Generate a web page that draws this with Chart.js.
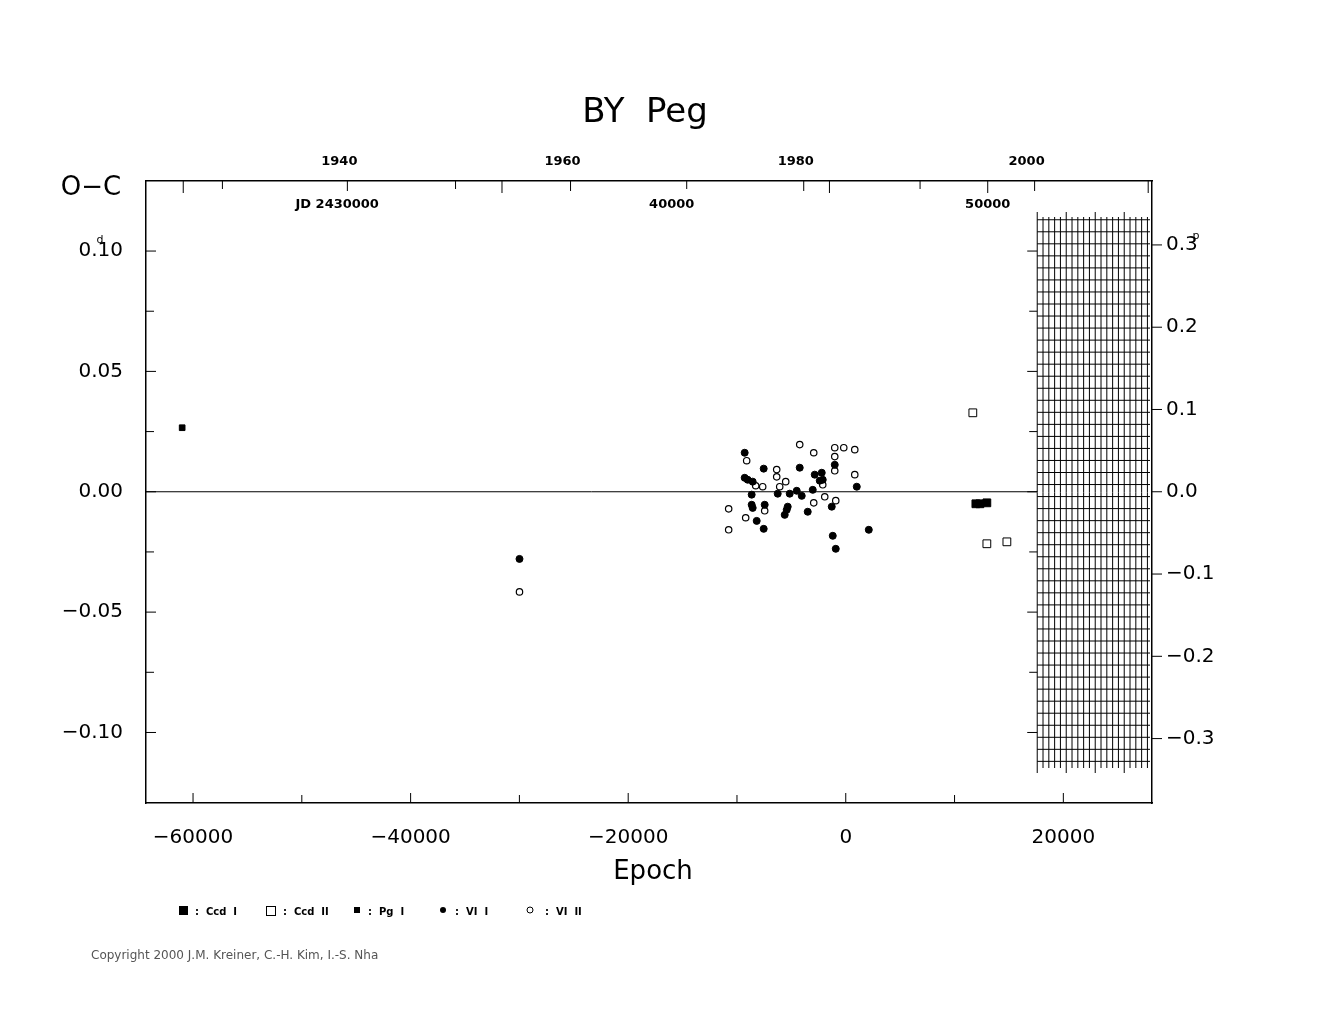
<!DOCTYPE html>
<html><head><meta charset="utf-8">
<script src="https://cdn.jsdelivr.net/npm/chart.js@4/dist/chart.umd.min.js"></script>
<style>body{margin:0;background:#fff}canvas{display:block}</style>
</head><body>
<canvas id="c" width="1325" height="1020"></canvas>
<script>
// ---- data (epoch, O-C in days) ----
const ccd1 = [[11960,-0.0050],[12330,-0.0050],[12970,-0.0046]];
const ccd2 = [[11680,0.0328],[12970,-0.0216],[14810,-0.0208]];
const pg1 = [[-61000,0.0266]];
const vi1 = [[-29992,-0.0279],[-9292,0.0162],[-7544,0.0096],[-4232,0.0100],[-9292,0.0058],[-9016,0.0050],
  [-8556,0.0042],[-8648,-0.0012],[-6256,-0.0008],[-5152,-0.0008],[-4508,0.0004],[-4048,-0.0017],
  [-3036,0.0008],[-2852,0.0071],[-2208,0.0079],[-2116,0.0050],[-2392,0.0046],[-1012,0.0112],
  [1012,0.0021],[-8648,-0.0054],[-7452,-0.0054],[-8556,-0.0067],[-5336,-0.0062],[-5612,-0.0096],
  [-3496,-0.0083],[-1288,-0.0062],[-8188,-0.0121],[-7544,-0.0154],[-1196,-0.0183],[-920,-0.0237],
  [2116,-0.0158],[-5428,-0.0075]];
const vi2 = [[-29992,-0.0416],[-9108,0.0129],[-4232,0.0196],[-2944,0.0162],[-1012,0.0183],[-184,0.0183],
  [828,0.0175],[-1012,0.0146],[-1012,0.0087],[-6348,0.0092],[-6348,0.0062],[-5520,0.0042],
  [-6072,0.0021],[-7636,0.0021],[-8280,0.0025],[-2116,0.0029],[-1932,-0.0021],[828,0.0071],
  [-2944,-0.0046],[-920,-0.0037],[-7452,-0.0079],[-10764,-0.0071],[-9200,-0.0108],[-10764,-0.0158]];
const xTicks = [-60000,-40000,-20000,0,20000];
const yTicks = [0.10,0.05,0,-0.05,-0.10];
const phaseTicks = [0.3,0.2,0.1,0,-0.1,-0.2,-0.3];
const period = 0.3418;
const yearTicks = [1940,1960,1980,2000];
const yearEpochs = [-45814,-25300,-3864,17360];
const oddYearEpochs = [-57300,-35870,-14620,6830];
const jdLabels = ['JD 2430000','40000','50000'];
const jdEpochs = [-46200,-16000,13050];
const jdTickEpochs = [-60900,-31600,-1500,13050,27800];

const pts = a => a.map(p => ({x:p[0], y:p[1]}));
const fmt = v => (v < 0 ? '\u2212' : '') + Math.abs(v).toFixed(2);
const fmtP = v => (v < 0 ? '\u2212' : '') + Math.abs(v).toFixed(1);

const deco = {
  id: 'deco',
  afterDraw(ch) {
    const c = ch.ctx, x = ch.scales.x, y = ch.scales.y, a = ch.chartArea;
    const X = v => x.getPixelForValue(v), Y = v => y.getPixelForValue(v);
    c.save();
    c.strokeStyle = '#000'; c.fillStyle = '#000'; c.lineWidth = 1;
    const ln = (x1,y1,x2,y2) => { c.beginPath(); c.moveTo(x1,y1); c.lineTo(x2,y2); c.stroke(); };
    // zero line
    ln(a.left, Y(0), X(17600), Y(0));
    // bottom ticks
    for (let e = -60000; e <= 20000; e += 10000) ln(X(e), a.bottom, X(e), a.bottom - (e % 20000 === 0 ? 10 : 8));
    // left ticks
    for (let v = -0.1; v <= 0.101; v += 0.025) {
      const big = Math.abs(Math.round(v*1000) % 50) === 0;
      ln(a.left, Y(v), a.left + (big ? 10 : 8), Y(v));
      ln(X(17600), Y(v), X(17600) - (big ? 10 : 8), Y(v));
    }
    // right ticks (phase)
    phaseTicks.forEach(p => ln(a.right, Y(p*period), a.right + 10, Y(p*period)));
    // top ticks
    yearEpochs.forEach(e => ln(X(e), a.top, X(e), a.top + 10));
    oddYearEpochs.forEach(e => ln(X(e), a.top, X(e), a.top + 8));
    jdTickEpochs.forEach(e => ln(X(e), a.top, X(e), a.top + 12));
    // hatched region
    const hx0 = X(17600), hx1 = a.right - 2;
    let i = 0;
    for (let px = hx0; px <= hx1; px += 5.8, i++) ln(px, i % 5 === 0 ? 212 : 217, px, i % 5 === 0 ? 773 : 768);
    for (let v = 0.113; v >= -0.115; v -= 0.005) ln(hx0, Y(v), hx1, Y(v));
    // texts
    c.font = '34px "DejaVu Sans"'; c.textAlign = 'center'; c.textBaseline = 'middle';
    c.fillText('BY  Peg', 645, 113);
    c.font = '26px "DejaVu Sans"'; c.fillText('O\u2212C', 91, 188);
    c.fillText('Epoch', 653, 872);
    c.font = 'bold 13px "DejaVu Sans"';
    yearTicks.forEach((t,k) => c.fillText(String(t), X(yearEpochs[k]) - 8, 162));
    jdLabels.forEach((t,k) => c.fillText(t, X(jdEpochs[k]) - (k ? 0 : 6), 205));
    c.font = '11px "DejaVu Sans"'; c.fillText('d', 100, 240); c.fillText('p', 1196, 236);
    // legend
    c.textAlign = 'left'; c.font = 'bold 10px "DejaVu Sans"';
    c.fillRect(179, 906, 9, 9); c.fillText(':  Ccd  I', 195, 912);
    c.strokeRect(266.5, 906.5, 9, 9); c.fillText(':  Ccd  II', 283, 912);
    c.fillRect(354, 907, 6, 6); c.fillText(':  Pg  I', 368, 912);
    c.beginPath(); c.arc(443, 910, 3, 0, 7); c.fill(); c.fillText(':  VI  I', 455, 912);
    c.beginPath(); c.arc(530, 910, 3, 0, 7); c.stroke(); c.fillText(':  VI  II', 545, 912);
    c.font = '12px "DejaVu Sans"'; c.fillStyle = '#555';
    c.fillText('Copyright 2000 J.M. Kreiner, C.-H. Kim, I.-S. Nha', 91, 956);
    c.restore();
  }
};

new Chart(document.getElementById('c'), {
  type: 'scatter',
  data: { datasets: [
    { label: 'Ccd I', data: pts(ccd1), pointStyle: 'rect', radius: 5.5, backgroundColor: '#000', borderColor: '#000' },
    { label: 'Ccd II', data: pts(ccd2), pointStyle: 'rect', radius: 5.5, backgroundColor: '#fff', borderColor: '#000', borderWidth: 1 },
    { label: 'Pg I', data: pts(pg1), pointStyle: 'rect', radius: 4, backgroundColor: '#000', borderColor: '#000' },
    { label: 'VI I', data: pts(vi1), radius: 3.5, backgroundColor: '#000', borderColor: '#000' },
    { label: 'VI II', data: pts(vi2), radius: 3.2, backgroundColor: '#fff', borderColor: '#000', borderWidth: 1.2 }
  ]},
  options: {
    responsive: false, animation: false, events: [],
    layout: { padding: 0 },
    plugins: { legend: { display: false }, tooltip: { enabled: false } },
    scales: {
      x: { type: 'linear', min: -64324, max: 28150, position: 'bottom',
        afterFit: s => { s.height = 217; },
        afterBuildTicks: s => { s.ticks = xTicks.map(v => ({value: v})); },
        grid: { display: false }, border: { color: '#000', width: 1.5 },
        ticks: { color: '#000', font: { size: 20, family: 'DejaVu Sans' }, padding: 15,
          callback: v => (v < 0 ? '\u2212' : '') + Math.abs(v) } },
      xt: { type: 'linear', min: -64324, max: 28150, position: 'top',
        afterFit: s => { s.height = 181; },
        grid: { display: false }, border: { color: '#000', width: 1.5 },
        ticks: { display: false } },
      y: { min: -0.1293, max: 0.1291, position: 'left',
        afterFit: s => { s.width = 146; },
        afterBuildTicks: s => { s.ticks = yTicks.map(v => ({value: v})); },
        grid: { display: false }, border: { color: '#000', width: 1.5 },
        ticks: { color: '#000', font: { size: 20, family: 'DejaVu Sans' }, padding: 15, callback: fmt } },
      yr: { min: -0.1293/period, max: 0.1291/period, position: 'right',
        afterFit: s => { s.width = 173; },
        afterBuildTicks: s => { s.ticks = phaseTicks.map(v => ({value: v})); },
        grid: { display: false }, border: { color: '#000', width: 1.5 },
        ticks: { color: '#000', font: { size: 20, family: 'DejaVu Sans' }, padding: 6, callback: fmtP } }
    }
  },
  plugins: [deco]
});
</script>
</body></html>
